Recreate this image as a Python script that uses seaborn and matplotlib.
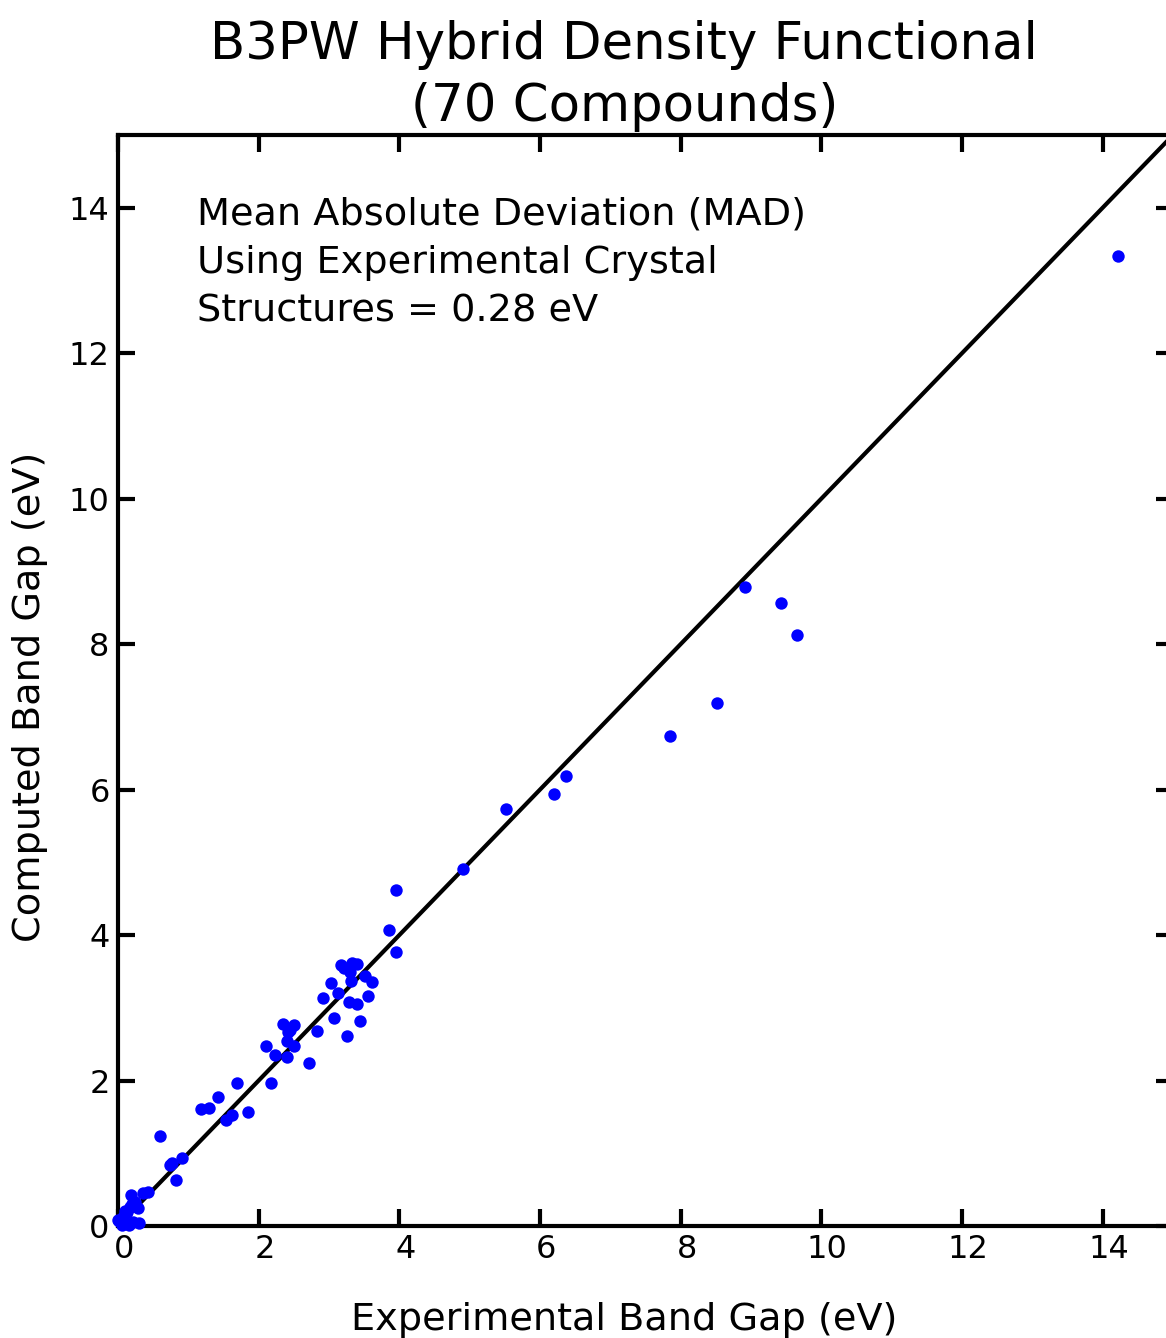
import numpy as np
import pandas as pd
import matplotlib
matplotlib.use("Agg")
import matplotlib.pyplot as plt
import matplotlib.transforms as mtransforms
import seaborn as sns

# Experimental vs. B3PW computed band gaps (eV)
experimental = [
    14.22, 8.92, 9.42, 9.66, 8.52, 7.85, 6.37, 6.20, 5.52, 4.91, 3.95, 3.85, 3.95,
    3.17, 3.33, 3.40, 3.30, 3.31, 3.51, 3.61, 3.03, 3.13, 2.92, 3.29, 3.40, 3.56,
    3.07, 3.44, 3.26, 2.83, 2.35, 2.50, 2.42, 2.40, 2.50, 2.11, 2.23, 2.40, 2.72,
    1.69, 2.18, 1.42, 1.18, 1.29, 1.62, 1.54, 1.85, 0.91,
    0.60, 0.74, 0.83, 0.18, 0.36, 0.43, 0.24, 0.17, 0.28, 0.13, 0.07, 0.01, 0.30,
    0.16, 0.00, 0.10, 0.20, 0.05, 0.77, 3.22, 2.45, 0.22,
]
computed = [
    13.34, 8.78, 8.57, 8.13, 7.19, 6.74, 6.19, 5.94, 5.74, 4.91, 4.62, 4.07, 3.77,
    3.59, 3.62, 3.60, 3.49, 3.37, 3.44, 3.36, 3.34, 3.20, 3.14, 3.08, 3.05, 3.16,
    2.86, 2.82, 2.61, 2.68, 2.78, 2.76, 2.67, 2.54, 2.48, 2.48, 2.35, 2.32, 2.24,
    1.97, 1.97, 1.77, 1.61, 1.62, 1.53, 1.46, 1.57, 0.94,
    1.24, 0.84, 0.63, 0.43, 0.45, 0.47, 0.33, 0.26, 0.25, 0.19, 0.12, 0.07, 0.04,
    0.01, 0.08, 0.20, 0.30, 0.02, 0.86, 3.55, 2.70, 0.05,
]
parity = [0, 15]
x_ticks = [0, 2, 4, 6, 8, 10, 12, 14]
y_ticks = [0, 2, 4, 6, 8, 10, 12, 14]

df = pd.DataFrame({"Experimental": experimental, "Computed": computed})

sns.set_theme(style="ticks")
plt.rcParams["font.family"] = ["DejaVu Sans"]
plt.rcParams["text.color"] = "black"
plt.rcParams["axes.labelcolor"] = "black"

fig = plt.figure(figsize=(11.66, 13.38), dpi=100)
ax = fig.add_axes([118 / 1166, 112 / 1338, 1055 / 1166, 1091 / 1338])

sns.lineplot(x=parity, y=parity, ax=ax, color="black", linewidth=3.0, zorder=2)
sns.scatterplot(data=df, x="Experimental", y="Computed", ax=ax, color="#0000ff",
                s=80, linewidth=0, zorder=3, clip_on=False)

ax.set_xlim(0, 15)
ax.set_ylim(0, 15)
ax.set_xticks(x_ticks)
ax.set_yticks(y_ticks)

for side in ["left", "right", "top", "bottom"]:
    ax.spines[side].set_linewidth(3.0)
    ax.spines[side].set_color("black")

ax.tick_params(axis="both", which="major", direction="in", length=12, width=3,
               labelsize=23, top=True, right=True, pad=6, colors="black")

# nudge the x tick labels slightly to the right
shift = mtransforms.ScaledTranslation(6 / 100, 0, fig.dpi_scale_trans)
for lab in ax.get_xticklabels():
    lab.set_transform(lab.get_transform() + shift)

ax.set_xlabel("Experimental Band Gap (eV)", fontsize=27.5)
ax.xaxis.set_label_coords(0.48, -0.0700)
ax.set_ylabel("Computed Band Gap (eV)", fontsize=27.5)
ax.yaxis.set_label_coords(-0.066, 0.485)
ax.set_title("B3PW Hybrid Density Functional\n(70 Compounds)", fontsize=37,
             x=0.48, pad=10, linespacing=1.3, color="black")

ax.text(0.075, 0.944,
        "Mean Absolute Deviation (MAD)\nUsing Experimental Crystal\nStructures = 0.28 eV",
        transform=ax.transAxes, fontsize=27.5, va="top", ha="left", linespacing=1.45,
        color="black")

fig.savefig("out.png", dpi=100)
